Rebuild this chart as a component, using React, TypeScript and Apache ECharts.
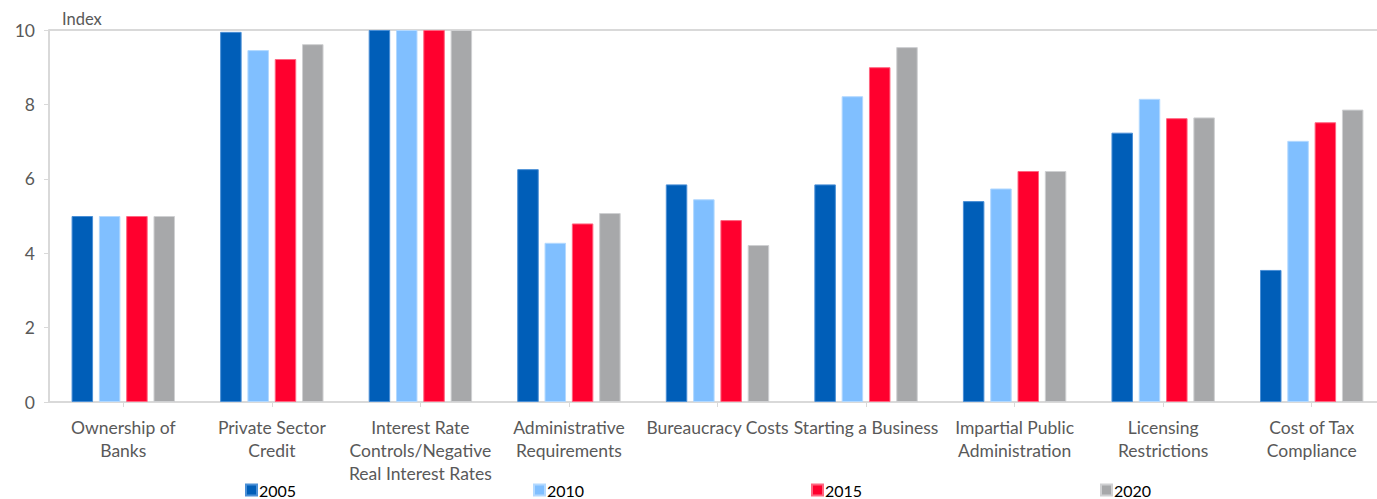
import React, { useEffect, useRef } from "react";
import * as echarts from "echarts";

const categories = [
  "Ownership of\nBanks",
  "Private Sector\nCredit",
  "Interest Rate\nControls/Negative\nReal Interest Rates",
  "Administrative\nRequirements",
  "Bureaucracy Costs",
  "Starting a Business",
  "Impartial Public\nAdministration",
  "Licensing\nRestrictions",
  "Cost of Tax\nCompliance",
];

const years = ["2005", "2010", "2015", "2020"];

const values2005 = [5.0, 9.95, 10.0, 6.26, 5.85, 5.85, 5.4, 7.24, 3.55];
const values2010 = [5.0, 9.46, 10.0, 4.28, 5.45, 8.22, 5.74, 8.15, 7.02];
const values2015 = [5.0, 9.22, 10.0, 4.8, 4.89, 9.0, 6.21, 7.63, 7.52];
const values2020 = [5.0, 9.62, 10.0, 5.08, 4.22, 9.54, 6.21, 7.65, 7.86];

const yTicks = [0, 2, 4, 6, 8, 10];

const seriesValues = [values2005, values2010, values2015, values2020];
const colors = ["#005EB8", "#80BFFF", "#FF002E", "#A7A8AA"];
const borderColors = ["#4a8fd6", "#b3d9ff", "#ff6680", "#cfd0d2"];
const legendLeft = [245, 533, 811, 1100];

const FONT = "Lato, 'Noto Sans', sans-serif";

export default function App() {
  const ref = useRef<HTMLDivElement>(null);
  useEffect(() => {
    if (!ref.current) return;
    const chart = echarts.init(ref.current, null, { renderer: "svg" });
    chart.setOption({
      animation: false,
      textStyle: { fontFamily: FONT },
      grid: {
        left: 49,
        width: 1337,
        top: 30,
        height: 372,
        containLabel: false,
        outerBoundsMode: "none",
      },
      graphic: [
        {
          type: "text",
          left: 62,
          top: 10,
          style: { text: "Index", fontSize: 16.5, fill: "#595959", fontFamily: FONT },
        },
      ],
      legend: years.map((y, i) => ({
        data: [y],
        left: legendLeft[i],
        top: 482,
        padding: 0,
        itemWidth: 11,
        itemHeight: 11,
        itemGap: 4,
        icon: "rect",
        textStyle: { fontSize: 16, color: "#000", fontFamily: FONT, padding: [0, 0, 0, -3] },
        selectedMode: false,
      })),
      xAxis: {
        type: "category",
        data: categories,
        axisLine: { lineStyle: { color: "#d9d9d9", width: 2 } },
        axisTick: { show: true, alignWithLabel: true, length: 5, lineStyle: { color: "#d9d9d9" } },
        axisLabel: {
          interval: 0,
          color: "#595959",
          fontSize: 17.5,
          lineHeight: 23,
          margin: 14,
          fontFamily: FONT,
        },
      },
      yAxis: {
        type: "value",
        min: yTicks[0],
        max: yTicks[yTicks.length - 1],
        interval: 2,
        axisLine: { show: true, lineStyle: { color: "#d9d9d9", width: 2 } },
        axisTick: { show: true, length: 5, lineStyle: { color: "#d9d9d9" } },
        axisLabel: { color: "#595959", fontSize: 17.5, margin: 14, fontFamily: FONT },
        splitLine: {
          show: true,
          lineStyle: {
            color: ["transparent", "transparent", "transparent", "transparent", "transparent", "#d9d9d9"],
            width: 2,
          },
        },
      },
      series: years.map((y, i) => ({
        name: y,
        type: "bar",
        data: seriesValues[i],
        barWidth: 21.5,
        barGap: "27%",
        itemStyle: { color: colors[i], borderColor: borderColors[i], borderWidth: 1 },
      })),
    });
    return () => chart.dispose();
  }, []);
  return (
    <div
      ref={ref}
      style={{ position: "absolute", left: 0, top: 0, width: 1377, height: 499 }}
    />
  );
}
